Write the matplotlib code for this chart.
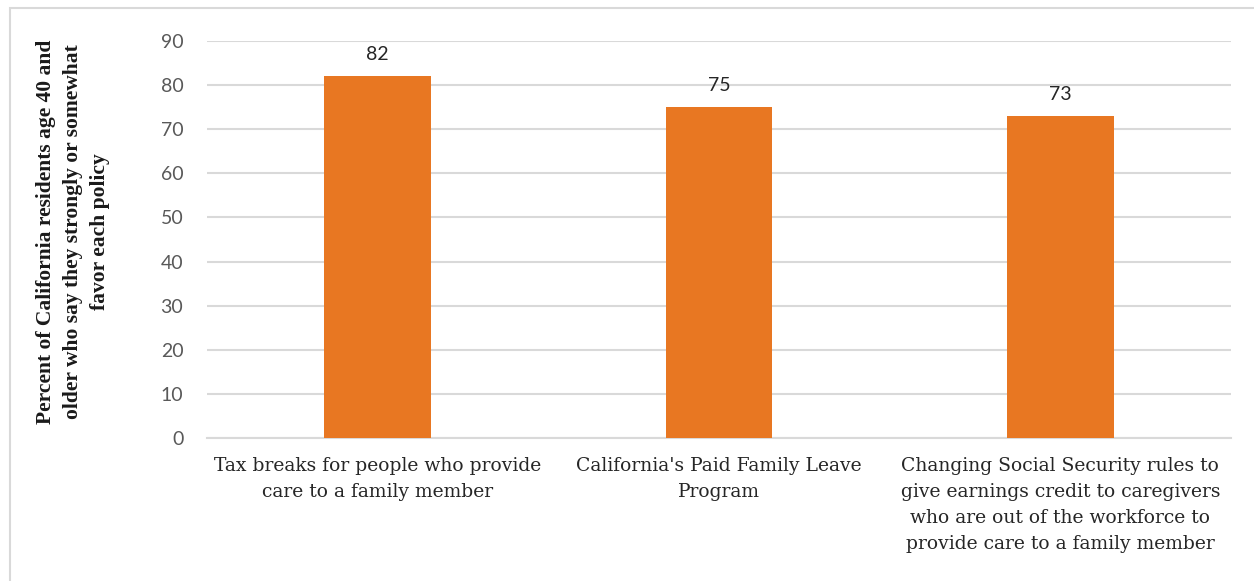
import matplotlib.pyplot as plt
from matplotlib.patches import Rectangle

# Share of Californians 40+ who favor each caregiving policy
policies = [
    'Tax breaks for people who provide\ncare to a family member',
    "California's Paid Family Leave\nProgram",
    'Changing Social Security rules to\ngive earnings credit to caregivers\nwho are out of the workforce to\nprovide care to a family member',
]
favor_pct = [82, 75, 73]

serif = ['DejaVu Serif']
serif_bold = ['Liberation Serif', 'DejaVu Serif']
sans = ['Lato', 'DejaVu Sans']

fig = plt.figure(figsize=(12.54, 5.81), dpi=100)
ax = fig.add_axes([0.165, 0.2461, 0.8167, 0.6833])

# light outline around the chart area
fig.patches.append(Rectangle((0.008, -0.05), 1.1, 1.036, transform=fig.transFigure,
                             fill=False, edgecolor='#d9d9d9', linewidth=1.5))

x = range(len(policies))
bars = ax.bar(x, favor_pct, width=0.313, color='#E87722', zorder=3)

for b, v in zip(bars, favor_pct):
    ax.text(b.get_x() + b.get_width() / 2, v + 3.0, str(v), ha='center', va='bottom',
            fontsize=14, family=sans, color='#262626')

ax.set_xlim(-0.5, 2.5)
ax.set_ylim(0, 90)
ax.set_yticks(range(0, 91, 10))
ax.yaxis.grid(True, color='#d9d9d9', linewidth=1.5, zorder=0)
ax.tick_params(axis='y', length=0, pad=17, labelsize=14, labelcolor='#595959')
ax.tick_params(axis='x', length=0, pad=14)
for lbl in ax.get_yticklabels():
    lbl.set_family(sans)

ax.set_xticks(list(x))
ax.set_xticklabels(policies, fontsize=13.5, family=serif, color='#262626',
                   linespacing=1.55)

for s in ['top', 'right', 'left']:
    ax.spines[s].set_visible(False)
ax.spines['bottom'].set_color('#d9d9d9')
ax.spines['bottom'].set_linewidth(1.5)

ax.set_ylabel('Percent of California residents age 40 and\nolder who say they strongly or somewhat\nfavor each policy',
              fontsize=15.5, family=serif_bold, fontweight='bold', color='#1a1a1a',
              linespacing=1.45, labelpad=34)
ax.yaxis.set_label_coords(-0.095, 0.52)

fig.savefig('out.png', dpi=100)
